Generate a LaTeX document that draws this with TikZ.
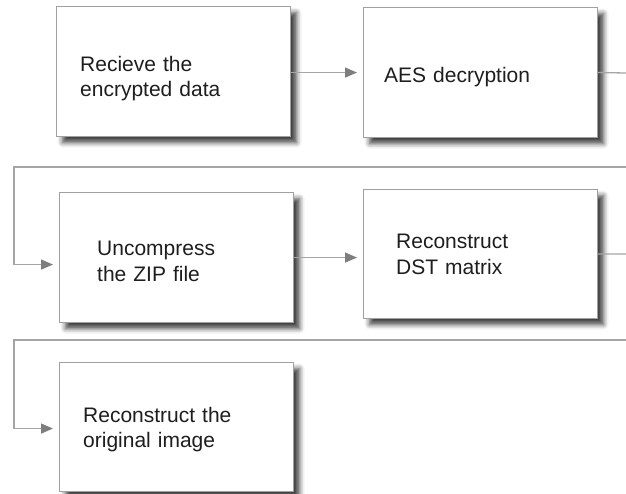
\documentclass[tikz,border=0pt]{standalone}
\usepackage{fontspec}
\setmainfont{Liberation Sans}
\usetikzlibrary{arrows.meta,shadows.blur}
\definecolor{boxline}{HTML}{A0A0A0}
\definecolor{conn}{HTML}{A5A5A5}
\definecolor{tip}{HTML}{7E7E7E}
\definecolor{ink}{HTML}{1E1E1E}
\tikzset{
  stepbox/.style={draw=boxline, line width=1.1pt, fill=white, anchor=north west,
    inner sep=0pt, minimum width=234pt, minimum height=130pt,
    blur shadow={shadow xshift=6pt, shadow yshift=-6pt, shadow blur radius=5pt,
      shadow opacity=75}},
  boxtext/.style={anchor=base west, inner sep=0pt, text width=220pt, align=left,
    text=ink, font=\fontsize{21}{25}\selectfont},
  flow/.style={draw=conn, line width=1.3pt},
  flowarrow/.style={flow, -{Triangle[length=12pt,width=10pt,color=tip]}, shorten >=6pt},
}
\begin{document}
\begin{tikzpicture}[x=1pt,y=-1pt]
\useasboundingbox (0,0) rectangle (626,494);

% processing steps
\node[stepbox] (b1) at (56,6) {};
\node[stepbox] (b2) at (363,7) {};
\node[stepbox] (b3) at (59,192) {};
\node[stepbox, minimum height=129pt] (b4) at (363,189) {};
\node[stepbox, minimum height=129pt] (b5) at (59,362) {};

% step captions
\node[boxtext] (t1) at (80,72) {Recieve the\\encrypted data};
\node[boxtext] (t2) at (384,83) {AES decryption};
\node[boxtext] (t3) at (97,256) {Uncompress\\the ZIP file};
\node[boxtext] (t4) at (396,249) {Reconstruct\\DST matrix};
\node[boxtext] (t5) at (83,422) {Reconstruct the\\original image};

% row-wrap points at the right and left margins
\coordinate (r1) at (626,73);
\coordinate (w1) at (626,167);
\coordinate (l1) at (14,167);
\coordinate (r2) at (626,254);
\coordinate (w2) at (626,340);
\coordinate (l2) at (14,340);

% connectors
\draw[flowarrow] ([yshift=-1pt]b1.east) -- ([yshift=-1pt]b2.west |- b1.east);
\draw[flow] (b2.east) -- (r1);
\draw[flowarrow] (w1) -- (l1) |- ([yshift=-7pt]b3.west);
\draw[flowarrow] (b3.east) -- (b3.east -| b4.west);
\draw[flow] (b4.east) -- (r2);
\draw[flowarrow] (w2) -- (l2) |- ([yshift=-1.5pt]b5.west);
\end{tikzpicture}
\end{document}
